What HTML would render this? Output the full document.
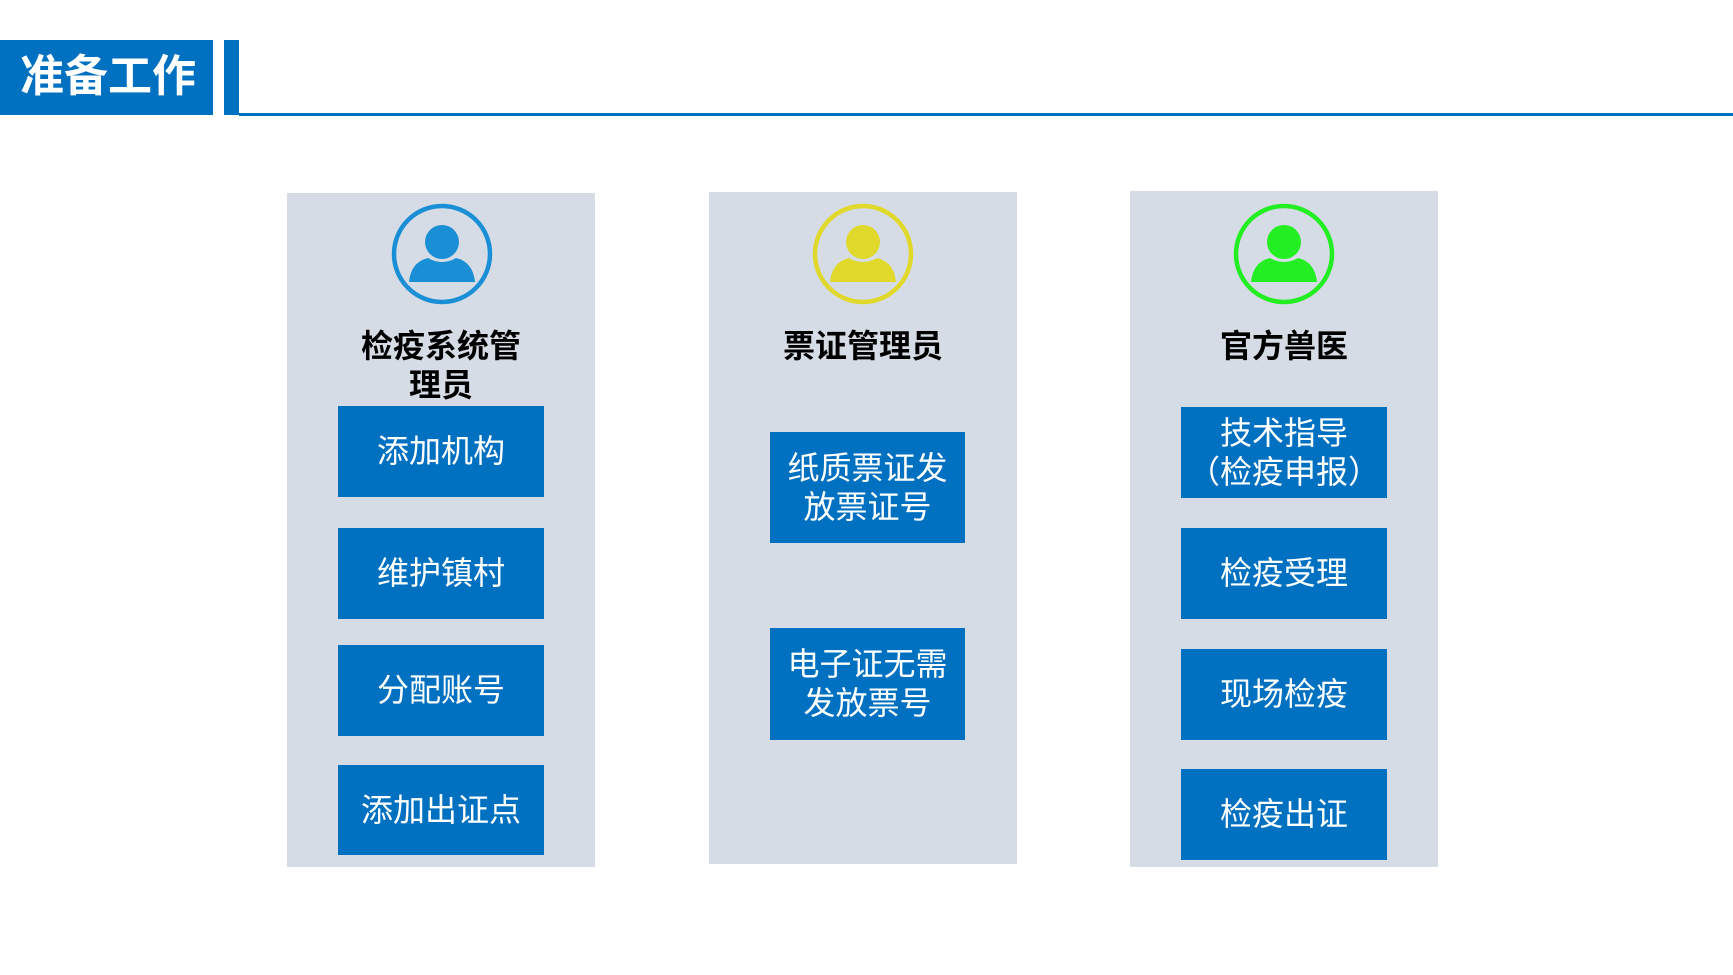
<!DOCTYPE html>
<html><head><meta charset="utf-8"><style>
body{margin:0;width:1733px;height:975px;background:#fff;position:relative;overflow:hidden;font-family:"Liberation Sans","Noto Sans CJK SC",sans-serif}
.a{position:absolute}
.panel{position:absolute;background:#d6dce5}
.box{position:absolute;background:#0070c0;color:#fff;font-size:32px;display:flex;align-items:center;justify-content:center;text-align:center;line-height:39px}
.t{position:absolute;font-weight:bold;font-size:32px;color:#000;text-align:center;line-height:39px}
</style></head><body>
<div class="a" style="left:0;top:40px;width:213px;height:75px;background:#0070c0"></div>
<div class="a" style="left:20px;top:46px;color:#fff;font-weight:bold;font-size:44px;line-height:62px">准备工作</div>
<div class="a" style="left:224px;top:40px;width:15px;height:75px;background:#0070c0"></div>
<div class="a" style="left:239px;top:113px;width:1494px;height:3px;background:#0070c0"></div>

<div class="panel" style="left:287px;top:193px;width:308px;height:674px"></div>
<div class="panel" style="left:709px;top:192px;width:308px;height:672px"></div>
<div class="panel" style="left:1130px;top:191px;width:308px;height:676px"></div>

<svg class="a" style="left:0;top:0" width="1733" height="975">
<g fill="#1a8fd6" stroke="#1a8fd6">
<circle cx="442" cy="254" r="48" fill="none" stroke-width="4.5"/>
<circle cx="442" cy="242" r="17" stroke="none"/>
<path d="M409 282 Q411 262 428 258 Q442 266 456 258 Q473 262 475 282 Z" stroke="none"/>
</g>
<g fill="#e0d82a">
<circle cx="863" cy="254" r="48" fill="none" stroke="#e0d82a" stroke-width="4.5"/>
<circle cx="863" cy="242" r="17"/>
<path d="M830 282 Q832 262 849 258 Q863 266 877 258 Q894 262 896 282 Z"/>
</g>
<g fill="#22ee22">
<circle cx="1284" cy="254" r="48" fill="none" stroke="#22ee22" stroke-width="4.5"/>
<circle cx="1284" cy="242" r="17"/>
<path d="M1251 282 Q1253 262 1270 258 Q1284 266 1298 258 Q1315 262 1317 282 Z"/>
</g>
</svg>

<div class="t" style="left:287px;top:327px;width:308px">检疫系统管<br>理员</div>
<div class="t" style="left:709px;top:327px;width:308px">票证管理员</div>
<div class="t" style="left:1130px;top:327px;width:308px">官方兽医</div>

<div class="box" style="left:338px;top:406px;width:206px;height:91px">添加机构</div>
<div class="box" style="left:338px;top:528px;width:206px;height:91px">维护镇村</div>
<div class="box" style="left:338px;top:645px;width:206px;height:91px">分配账号</div>
<div class="box" style="left:338px;top:765px;width:206px;height:90px">添加出证点</div>

<div class="box" style="left:770px;top:432px;width:195px;height:111px">纸质票证发<br>放票证号</div>
<div class="box" style="left:770px;top:628px;width:195px;height:112px">电子证无需<br>发放票号</div>

<div class="box" style="left:1181px;top:407px;width:206px;height:91px">技术指导<br>（检疫申报）</div>
<div class="box" style="left:1181px;top:528px;width:206px;height:91px">检疫受理</div>
<div class="box" style="left:1181px;top:649px;width:206px;height:91px">现场检疫</div>
<div class="box" style="left:1181px;top:769px;width:206px;height:91px">检疫出证</div>
</body></html>
